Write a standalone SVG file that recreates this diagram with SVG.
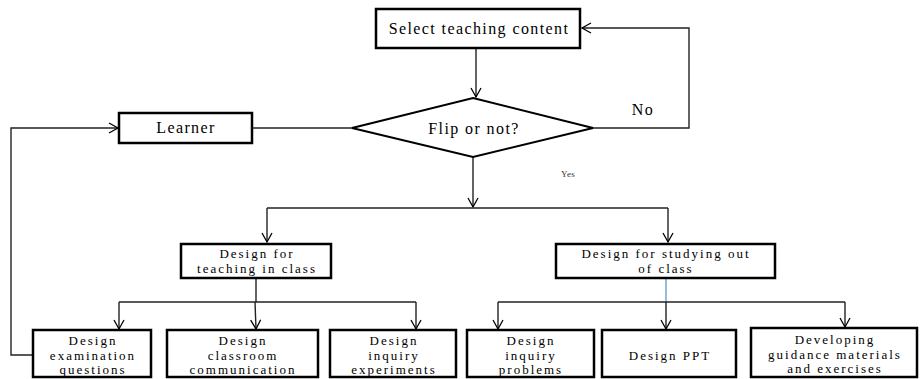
<svg xmlns="http://www.w3.org/2000/svg" width="920" height="379" viewBox="0 0 920 379">
<defs>
<marker id="ah" markerWidth="12" markerHeight="12" refX="10" refY="6" orient="auto" markerUnits="userSpaceOnUse">
<path d="M1,1 L10,6 L1,11" fill="none" stroke="#000" stroke-width="1.3"/>
</marker>
<style>
.box{fill:#fff;stroke:#000;stroke-width:2.5}
.ln{fill:none;stroke:#222;stroke-width:1.4}
text{font-family:'Liberation Serif','Times New Roman',serif;font-size:16px;fill:#000;text-anchor:middle;letter-spacing:1.4px}
.t3{font-size:13px;letter-spacing:2px}
.sm{font-size:9px;letter-spacing:0.3px;fill:#333}
</style>
</defs>
<g id="connectors">
<path class="ln" d="M476,48 V97" marker-end="url(#ah)"/>
<path class="ln" d="M593,128 H689 V28 H582" marker-end="url(#ah)"/>
<path class="ln" d="M352,128 H253"/>
<path class="ln" d="M473,157 V207" marker-end="url(#ah)"/>
<path class="ln" d="M267,208 H668"/>
<path class="ln" d="M267,208 V242" marker-end="url(#ah)"/>
<path class="ln" d="M668,208 V242" marker-end="url(#ah)"/>
<path class="ln" d="M256,278 V302"/>
<path class="ln" d="M119,302 H416"/>
<path class="ln" d="M119,302 V329" marker-end="url(#ah)"/>
<path class="ln" d="M255,302 L256,329" marker-end="url(#ah)"/>
<path class="ln" d="M416,302 V329" marker-end="url(#ah)"/>
<path d="M666,278 V302" fill="none" stroke="#6a9fd4" stroke-width="1.4"/>
<path class="ln" d="M498,302 H845"/>
<path class="ln" d="M498,302 V329" marker-end="url(#ah)"/>
<path class="ln" d="M666,302 V329" marker-end="url(#ah)"/>
<path class="ln" d="M845,302 V327" marker-end="url(#ah)"/>
<path class="ln" d="M33,355 H11 V128 H118" marker-end="url(#ah)"/>
</g>
<g id="select"><rect class="box" x="376" y="9" width="204" height="39"/><text x="479" y="34">Select teaching content</text></g>
<g id="flip"><polygon class="box" points="473,98 593,128 473,157 352,128" style="stroke-width:2"/><text x="474" y="134">Flip or not?</text></g>
<g id="no"><text x="643" y="115">No</text></g>
<g id="yes"><text class="sm" x="568" y="177">Yes</text></g>
<g id="learner"><rect class="box" x="119" y="113" width="133" height="30"/><text x="186" y="133">Learner</text></g>
<g id="inclass"><rect class="box" x="181" y="244" width="150" height="34"/><text class="t3" x="257" y="258">Design for</text><text class="t3" x="257" y="273">teaching in class</text></g>
<g id="outclass"><rect class="box" x="556" y="244" width="219" height="34"/><text class="t3" x="666" y="258">Design for studying out</text><text class="t3" x="666" y="273">of  class</text></g>
<g id="exam"><rect class="box" x="33" y="330" width="118" height="47"/><text class="t3" x="93" y="345">Design</text><text class="t3" x="93" y="360">examination</text><text class="t3" x="93" y="374">questions</text></g>
<g id="classroom"><rect class="box" x="167" y="330" width="151" height="47"/><text class="t3" x="243" y="345">Design</text><text class="t3" x="243" y="360">classroom</text><text class="t3" x="243" y="374">communication</text></g>
<g id="experiments"><rect class="box" x="330" y="330" width="126" height="47"/><text class="t3" x="394" y="345">Design</text><text class="t3" x="394" y="360">inquiry</text><text class="t3" x="394" y="374">experiments</text></g>
<g id="problems"><rect class="box" x="467" y="330" width="127" height="47"/><text class="t3" x="531" y="345">Design</text><text class="t3" x="531" y="360">inquiry</text><text class="t3" x="531" y="374">problems</text></g>
<g id="ppt"><rect class="box" x="602" y="330" width="134" height="47"/><text class="t3" x="670" y="360">Design PPT</text></g>
<g id="developing"><rect class="box" x="751" y="328" width="166" height="49"/><text class="t3" x="835" y="344">Developing</text><text class="t3" x="835" y="359">guidance materials</text><text class="t3" x="835" y="373">and exercises</text></g>
</svg>
